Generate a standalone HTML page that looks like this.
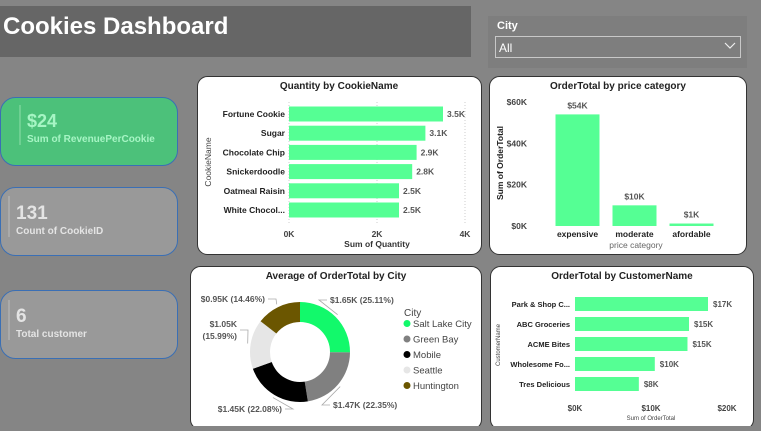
<!DOCTYPE html>
<html><head><meta charset="utf-8"><style>
body{margin:0;width:761px;height:426px;overflow:hidden;background:#858585;font-family:"Liberation Sans",sans-serif}
svg text{font-family:"Liberation Sans",sans-serif}
</style></head><body>
<svg id="s" width="761" height="426" xmlns="http://www.w3.org/2000/svg">
<rect x="0" y="0" width="761" height="426" fill="#858585"/>
<g>
<rect x="0" y="6" width="471" height="51" fill="#666"/>
<text x="3" y="34" font-size="24" font-weight="bold" fill="#fff">Cookies Dashboard</text>
</g>
<g>
<rect x="488" y="16" width="259" height="52" fill="#7e7e7e"/>
<text x="497" y="29" font-size="11" font-weight="bold" fill="#fff">City</text>
<rect x="495.5" y="36.5" width="245" height="21" fill="none" stroke="#c8c8c8" stroke-width="1"/>
<text x="499" y="52" font-size="12" fill="#fff">All</text>
<path d="M725 43 L730 48 L735 43" fill="none" stroke="#eee" stroke-width="1.2"/>
</g>
<g>
<rect x="0.5" y="97.5" width="177" height="68" rx="15" fill="#4cc17a" stroke="#3a6fb5"/>
<line x1="20" y1="105" x2="20" y2="145" stroke="#8fe0aa"/>
<text x="27" y="127" font-size="18" font-weight="bold" fill="#a6f5c4">$24</text>
<text x="27" y="142" font-size="10" font-weight="bold" fill="#a6f5c4">Sum of RevenuePerCookie</text>
</g>
<g>
<rect x="0.5" y="187.5" width="177" height="68" rx="15" fill="#999" stroke="#3a6fb5"/>
<line x1="9" y1="196" x2="9" y2="237" stroke="#bbb"/>
<text x="16" y="219" font-size="19" font-weight="bold" fill="#e4e4e4">131</text>
<text x="16" y="234" font-size="10" font-weight="bold" fill="#e4e4e4">Count of CookieID</text>
</g>
<g>
<rect x="0.5" y="290.5" width="177" height="68" rx="15" fill="#999" stroke="#3a6fb5"/>
<line x1="9" y1="300" x2="9" y2="340" stroke="#bbb"/>
<text x="16" y="322" font-size="19" font-weight="bold" fill="#e4e4e4">6</text>
<text x="16" y="337" font-size="10" font-weight="bold" fill="#e4e4e4">Total customer</text>
</g>
<rect x="197.5" y="76.5" width="284" height="178" rx="10" fill="#fff" stroke="#333"/>
<rect x="489.5" y="76.5" width="257" height="178" rx="10" fill="#fff" stroke="#333"/>
<rect x="190.5" y="266.5" width="291" height="163" rx="10" fill="#fff" stroke="#333"/>
<rect x="490.5" y="266.5" width="263" height="163" rx="10" fill="#fff" stroke="#333"/>
<g id="gA"></g><g id="gB"></g><g id="gC"></g><g id="gD"></g>
</svg>
<script>
const cookieNames=["Fortune Cookie","Sugar","Chocolate Chip","Snickerdoodle","Oatmeal Raisin","White Chocol..."];
const cookieQty=[3.5,3.1,2.9,2.8,2.5,2.5];
const qtyTicks=[0,2,4];
const priceCats=["expensive","moderate","afordable"];
const priceVals=[54,10,1.2];
const priceLabels=["$54K","$10K","$1K"];
const priceTicks=[0,20,40,60];
const cities=["Salt Lake City","Green Bay","Mobile","Seattle","Huntington"];
const cityVals=[1.65,1.47,1.45,1.05,0.95];
const cityPct=["25.11","22.35","22.08","15.99","14.46"];
const cityColors=["#12f96b","#808080","#000000","#e6e6e6","#6b5600"];
const custNames=["Park & Shop C...","ABC Groceries","ACME Bites","Wholesome Fo...","Tres Delicious"];
const custVals=[17.5,15,14.8,10.5,8.4];
const custLabels=["$17K","$15K","$15K","$10K","$8K"];
const custTicks=[0,10,20];
const NS="http://www.w3.org/2000/svg";
function el(p,t,a,txt){const e=document.createElementNS(NS,t);for(const k in a)e.setAttribute(k,a[k]);if(txt!==undefined)e.textContent=txt;p.appendChild(e);return e;}
const G="#55ff94";
// Chart A
(function(){const g=document.getElementById('gA');
const x=v=>289+v*44, y=i=>114+i*19.2;
let t=el(g,'text',{x:339,y:89,'font-size':10,'font-weight':'bold','text-anchor':'middle',fill:'#222'},'Quantity by CookieName');

qtyTicks.forEach(v=>{let l=el(g,'line',{x1:x(v),x2:x(v),y1:102,y2:225,stroke:'#ccc','stroke-dasharray':'1,2'});

let tt=el(g,'text',{x:x(v),y:237,'font-size':8.5,'font-weight':'bold','text-anchor':'middle',fill:'#444'},v+'K');
});
cookieNames.forEach((n,i)=>{let r=el(g,'rect',{x:x(0),y:y(i)-7.5,width:x(cookieQty[i])-x(0),height:15,fill:G});

let a=el(g,'text',{x:285,y:y(i)+3,'font-size':8.5,'font-weight':'bold','text-anchor':'end',fill:'#222'},n);

let b=el(g,'text',{x:x(cookieQty[i])+4,y:y(i)+3,'font-size':8.5,'font-weight':'bold',fill:'#555'},cookieQty[i].toFixed(1)+'K');
});
let xt=el(g,'text',{x:377,y:247,'font-size':8.5,'font-weight':'bold','text-anchor':'middle',fill:'#333'},'Sum of Quantity');

let yt=el(g,'text',{x:0,y:0,transform:'translate(211,162) rotate(-90)','font-size':8.5,'text-anchor':'middle',fill:'#444'},'CookieName');
})();
// Chart B
(function(){const g=document.getElementById('gB');
const y=v=>226-v*124/60, cx=i=>577.5+i*57;
let t=el(g,'text',{x:618,y:89,'font-size':10,'font-weight':'bold','text-anchor':'middle',fill:'#222'},'OrderTotal by price category');

priceTicks.forEach(v=>{let tt=el(g,'text',{x:527,y:y(v)+3,'font-size':8.5,'font-weight':'bold','text-anchor':'end',fill:'#444'},'$'+v+'K');
});
priceCats.forEach((c,i)=>{let r=el(g,'rect',{x:cx(i)-22,y:y(priceVals[i]),width:44,height:226-y(priceVals[i]),fill:G});

let a=el(g,'text',{x:cx(i),y:237,'font-size':8.5,'font-weight':'bold','text-anchor':'middle',fill:'#222'},c);

let b=el(g,'text',{x:cx(i),y:y(priceVals[i])-6,'font-size':8.5,'font-weight':'bold','text-anchor':'middle',fill:'#555'},priceLabels[i]);
});
let xt=el(g,'text',{x:636,y:248,'font-size':8.5,'text-anchor':'middle',fill:'#666'},'price category');

let yt=el(g,'text',{x:0,y:0,transform:'translate(503,163) rotate(-90)','font-size':8.5,'font-weight':'bold','text-anchor':'middle',fill:'#222'},'Sum of OrderTotal');
})();
// Chart C donut
(function(){const g=document.getElementById('gC');
const cx=300,cy=352,R=50,r=30;
// label anchor layout: [elbow x, elbow y, text side]
const labelLayout=[[327,300,1],[330,405,1],[285,409,-1],[240,330,-1],[268,299,-1]];
let t=el(g,'text',{x:336,y:279,'font-size':10,'font-weight':'bold','text-anchor':'middle',fill:'#222'},'Average of OrderTotal by City');

const tot=cityVals.reduce((a,b)=>a+b,0);let a0=-Math.PI/2;
const P=(rad,a)=>[cx+rad*Math.cos(a),cy+rad*Math.sin(a)];
cityVals.forEach((v,i)=>{const a1=a0+v/tot*2*Math.PI;const lg=(a1-a0)>Math.PI?1:0;
const [x1,y1]=P(R,a0),[x2,y2]=P(R,a1),[x3,y3]=P(r,a1),[x4,y4]=P(r,a0);
let p=el(g,'path',{d:`M${x1} ${y1}A${R} ${R} 0 ${lg} 1 ${x2} ${y2}L${x3} ${y3}A${r} ${r} 0 ${lg} 0 ${x4} ${y4}Z`,fill:cityColors[i]});

const am=(a0+a1)/2;const [ex,ey]=P(R+3,am);const L=labelLayout[i];const right=L[2]>0;
const hx=L[0]+(right?-8:8);
let ln=el(g,'polyline',{points:`${ex},${ey} ${hx},${L[1]} ${L[0]},${L[1]}`,fill:'none',stroke:'#aaa','stroke-width':0.8});

const pct=cityPct[i];const lbl='$'+v.toFixed(2)+'K ('+pct+'%)';
const tx0=right?L[0]+3:L[0]-3,anc=right?'start':'end';
let tx;
if(i===3){tx=el(g,'text',{x:tx0,y:L[1]-3,'font-size':8.5,'font-weight':'bold','text-anchor':anc,fill:'#555'},'$'+v.toFixed(2)+'K');
let t2=el(g,'text',{x:tx0,y:L[1]+9,'font-size':8.5,'font-weight':'bold','text-anchor':anc,fill:'#555'},'('+pct+'%)');
}
else tx=el(g,'text',{x:tx0,y:L[1]+3,'font-size':8.5,'font-weight':'bold','text-anchor':anc,fill:'#555'},lbl);

a0=a1;});
let lt=el(g,'text',{x:404,y:316,'font-size':10,fill:'#444'},'City');

cities.forEach((c,i)=>{const yy=327+i*15.5;
let d=el(g,'circle',{cx:407,cy:yy-3.5,r:3.5,fill:cityColors[i]});

let lx=el(g,'text',{x:413,y:yy,'font-size':9.5,fill:'#444'},c);
});})();
// Chart D
(function(){const g=document.getElementById('gD');
const x=v=>575+v*7.6, y=i=>304+i*20;
let t=el(g,'text',{x:622,y:279,'font-size':10,'font-weight':'bold','text-anchor':'middle',fill:'#222'},'OrderTotal by CustomerName');

custTicks.forEach(v=>{let tt=el(g,'text',{x:x(v),y:411,'font-size':8,'font-weight':'bold','text-anchor':'middle',fill:'#444'},'$'+v+'K');
});
custNames.forEach((n,i)=>{let r=el(g,'rect',{x:x(0),y:y(i)-7,width:x(custVals[i])-x(0),height:14,fill:G});

let a=el(g,'text',{x:570,y:y(i)+3,'font-size':7.5,'font-weight':'bold','text-anchor':'end',fill:'#222'},n);

let b=el(g,'text',{x:x(custVals[i])+5,y:y(i)+3,'font-size':8,'font-weight':'bold',fill:'#555'},custLabels[i]);
});
let xt=el(g,'text',{x:651,y:420,'font-size':6,'text-anchor':'middle',fill:'#444'},'Sum of OrderTotal');

let yt=el(g,'text',{x:0,y:0,transform:'translate(500,345) rotate(-90)','font-size':6,'text-anchor':'middle',fill:'#444'},'CustomerName');
})();
</script>
</body></html>
